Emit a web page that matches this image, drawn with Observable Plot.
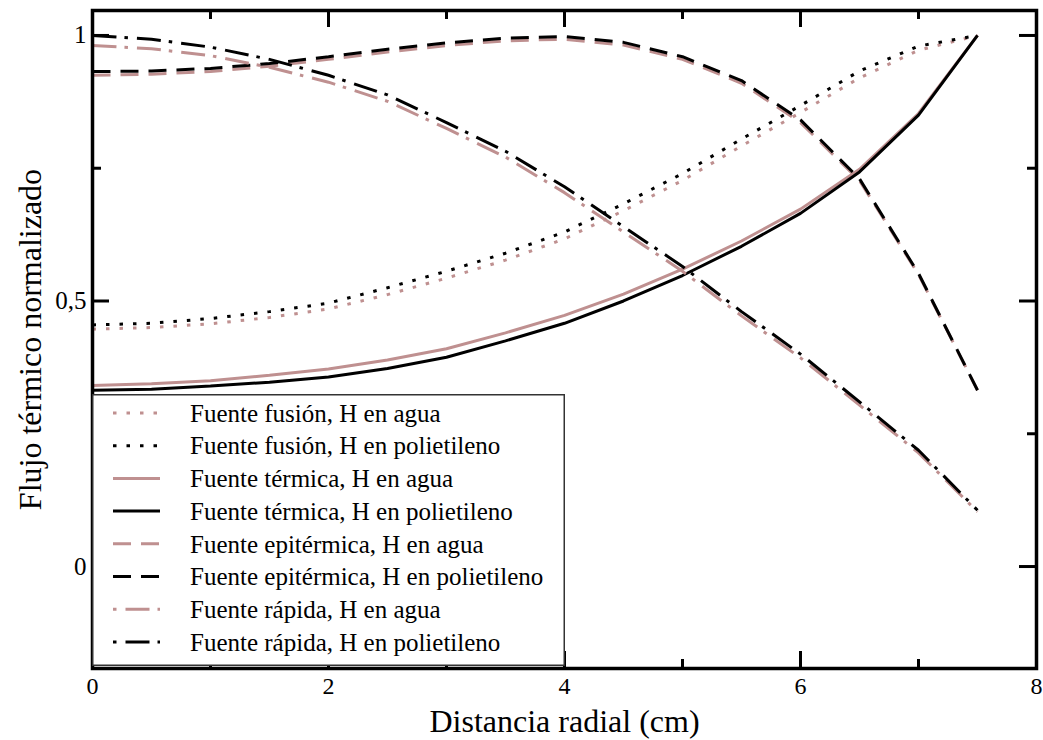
<!DOCTYPE html>
<html><head><meta charset="utf-8">
<script src="https://cdn.jsdelivr.net/npm/d3@7"></script>
<script src="https://cdn.jsdelivr.net/npm/@observablehq/plot@0.6"></script>
<style>
body{margin:0;background:#fff;}
#wrap{position:relative;width:1043px;height:740px;font-family:"Liberation Serif","Times New Roman",serif;}
#wrap svg, #wrap svg text{font-family:"Liberation Serif","Times New Roman",serif !important;}
#legend{position:absolute;left:92px;top:394px;}
</style></head><body><div id="wrap"></div>
<script>
// Radial distance (cm)
const radio = [0, 0.5, 1, 1.5, 2, 2.5, 3, 3.5, 4, 4.5, 5, 5.5, 6, 6.5, 7, 7.5];
// Normalized thermal flux
const fusionAgua      = [0.447,0.450,0.457,0.469,0.485,0.512,0.543,0.577,0.617,0.670,0.727,0.792,0.855,0.920,0.972,1.000];
const fusionPoli      = [0.455,0.458,0.467,0.480,0.496,0.525,0.556,0.590,0.630,0.683,0.740,0.805,0.868,0.933,0.980,1.000];
const termicaAgua     = [0.341,0.344,0.350,0.360,0.372,0.389,0.410,0.440,0.473,0.513,0.560,0.613,0.673,0.748,0.853,1.000];
const termicaPoli     = [0.332,0.334,0.340,0.347,0.357,0.373,0.394,0.425,0.458,0.500,0.548,0.603,0.665,0.743,0.850,1.000];
const epitermicaAgua  = [0.925,0.927,0.932,0.942,0.955,0.969,0.981,0.990,0.993,0.982,0.955,0.910,0.836,0.727,0.550,0.332];
const epitermicaPoli  = [0.932,0.933,0.938,0.947,0.960,0.974,0.986,0.995,0.998,0.987,0.960,0.915,0.841,0.730,0.552,0.332];
const rapidaAgua      = [0.981,0.975,0.962,0.940,0.912,0.876,0.825,0.771,0.704,0.630,0.556,0.472,0.393,0.304,0.214,0.103];
const rapidaPoli      = [1.000,0.993,0.978,0.955,0.925,0.888,0.836,0.782,0.715,0.640,0.565,0.480,0.400,0.310,0.219,0.106];

const seriesNames = [
  "Fuente fusión, H en agua",
  "Fuente fusión, H en polietileno",
  "Fuente térmica, H en agua",
  "Fuente térmica, H en polietileno",
  "Fuente epitérmica, H en agua",
  "Fuente epitérmica, H en polietileno",
  "Fuente rápida, H en agua",
  "Fuente rápida, H en polietileno"
];
const seriesValues = [fusionAgua, fusionPoli, termicaAgua, termicaPoli, epitermicaAgua, epitermicaPoli, rapidaAgua, rapidaPoli];

const xMajor = [0, 2, 4, 6, 8];
const xMinor = [1, 3, 5, 7];
const yMajor = [0, 0.5, 1];
const yMinor = [0.25, 0.75];
const yTickLabels = ["0", "0,5", "1"];

const SERIF = '"Liberation Serif", "Times New Roman", serif';
const PINK = "#bf9090", BLACK = "#000";
const DOT = "3.5,10", DASH = "18,10", DASHDOT = "24,8,3.5,9";
const styles = [
  {stroke: PINK, dash: DOT}, {stroke: BLACK, dash: DOT},
  {stroke: PINK, dash: null}, {stroke: BLACK, dash: null},
  {stroke: PINK, dash: DASH}, {stroke: BLACK, dash: DASH},
  {stroke: PINK, dash: DASHDOT}, {stroke: BLACK, dash: DASHDOT}
];

const W = 1043, H = 740;
const mL = 92, mR = 7, mT = 10, mB = 72;
const xDom = [0, 8], yDom = [-0.192, 1.047];
const pxX = (W - mL - mR) / (xDom[1] - xDom[0]);
const pxY = (H - mT - mB) / (yDom[1] - yDom[0]);
const majLen = 17, minLen = 9;

const lineMarks = seriesValues.map((vals, i) => {
  const data = radio.map((r, j) => ({r, v: vals[j]}));
  return Plot.line(data, {x: "r", y: "v", stroke: styles[i].stroke, strokeWidth: 3,
    strokeDasharray: styles[i].dash || undefined, strokeLinecap: "butt", strokeLinejoin: "miter"});
});

function xTicks(vals, len) {
  return [
    Plot.ruleX(vals, {x: d => d, y1: yDom[0], y2: yDom[0] + len / pxY, stroke: BLACK, strokeWidth: 3}),
    Plot.ruleX(vals, {x: d => d, y1: yDom[1], y2: yDom[1] - len / pxY, stroke: BLACK, strokeWidth: 3})
  ];
}
function yTicks(vals, len) {
  return [
    Plot.ruleY(vals, {y: d => d, x1: xDom[0], x2: xDom[0] + len / pxX, stroke: BLACK, strokeWidth: 3}),
    Plot.ruleY(vals, {y: d => d, x1: xDom[1], x2: xDom[1] - len / pxX, stroke: BLACK, strokeWidth: 3})
  ];
}

const chart = Plot.plot({
  width: W, height: H,
  marginLeft: mL, marginRight: mR, marginTop: mT, marginBottom: mB,
  style: {fontFamily: SERIF, background: "#fff", color: "#000"},
  x: {domain: xDom},
  y: {domain: yDom},
  marks: [
    ...lineMarks,
    ...xTicks(xMajor, majLen), ...xTicks(xMinor, minLen),
    ...yTicks(yMajor, majLen), ...yTicks(yMinor, minLen),
    Plot.frame({stroke: BLACK, strokeWidth: 3.5}),
    Plot.axisX({ticks: xMajor, tickSize: 0, tickPadding: 8, fontSize: 24, fontFamily: SERIF, label: null, tickFormat: d => String(d)}),
    Plot.axisY({ticks: yMajor, tickSize: 0, tickPadding: 6, fontSize: 25, fontFamily: SERIF, label: null,
      tickFormat: d => yTickLabels[yMajor.indexOf(d)]}),
    Plot.text(["Distancia radial (cm)"], {text: d => d, frameAnchor: "bottom", dy: 53, fontSize: 32, fontFamily: SERIF, textAnchor: "middle", lineAnchor: "middle"}),
    Plot.text(["Flujo térmico normalizado"], {text: d => d, frameAnchor: "left", dx: -62, rotate: -90, fontSize: 32, fontFamily: SERIF, textAnchor: "middle", lineAnchor: "middle"})
  ]
});

const wrap = document.getElementById("wrap");
wrap.appendChild(chart);

// Legend (inside plot area, lower-left)
const LW = 473, LH = 272, rowH = 32.7, row0 = 19;
const leg = d3.select(wrap).append("svg").attr("id", "legend").attr("width", LW).attr("height", LH);
leg.append("rect").attr("x", 0.75).attr("y", 0.75).attr("width", LW - 1.5).attr("height", LH - 1.5)
  .attr("fill", "#fff").attr("stroke", "#333").attr("stroke-width", 1.5);
seriesNames.forEach((name, i) => {
  const y = row0 + i * rowH;
  const s = styles[i];
  const isDashDot = s.dash === DASHDOT;
  leg.append("line").attr("x1", 21).attr("x2", 68).attr("y1", y).attr("y2", y)
    .attr("stroke", s.stroke).attr("stroke-width", 3)
    .attr("stroke-dasharray", isDashDot ? "3.5,9,24,8" : s.dash);
  leg.append("text").attr("x", 98).attr("y", y).attr("dy", "0.35em")
    .attr("font-family", SERIF)
    .attr("font-size", 25).attr("fill", "#000").text(name);
});
</script></body></html>
